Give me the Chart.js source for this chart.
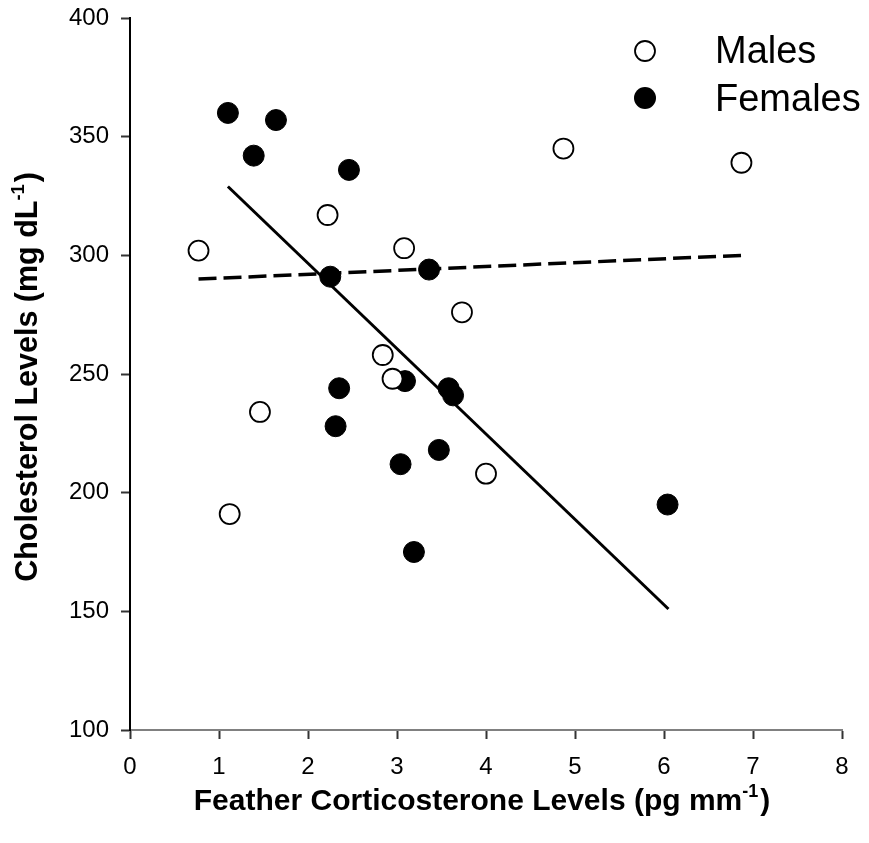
<!DOCTYPE html>
<html>
<head>
<meta charset="utf-8">
<script src="https://cdn.jsdelivr.net/npm/chart.js@4"></script>
<style>
  html, body { margin: 0; padding: 0; background: #fff; }
  #wrap { width: 869px; height: 843px; }
</style>
</head>
<body>
<div id="wrap"><canvas id="chart" width="869" height="843"></canvas></div>
<script>
// datos
const malesX = [0.77, 1.12, 1.46, 2.22, 2.84, 2.95, 3.08, 3.73, 4.0, 4.87, 6.87];
const malesY = [302, 191, 234, 317, 258, 248, 303, 276, 208, 345, 339];
const femalesX = [1.1, 1.39, 1.64, 2.25, 2.31, 2.35, 2.46, 3.04, 3.09, 3.19, 3.36, 3.47, 3.58, 3.63, 6.04];
const femalesY = [360, 342, 357, 291, 228, 244, 336, 212, 247, 175, 294, 218, 244, 241, 195];
// lineas de regresion (extremos)
const femaleFitX = [1.1, 6.05];
const femaleFitY = [329, 151];
const maleFitX = [0.77, 6.88];
const maleFitY = [290, 300];
const xTicks = [0, 1, 2, 3, 4, 5, 6, 7, 8];
const yTicks = [100, 150, 200, 250, 300, 350, 400];

const toPoints = (xs, ys) => xs.map((x, i) => ({ x: x, y: ys[i] }));
const FONT = '"Liberation Sans", Arial, sans-serif';

//funcion para escribir texto con superindice
const drawWithSup = (ctx, parts, x, y, size) => {
  let total = 0;
  parts.forEach(p => {
    ctx.font = 'bold ' + (p.sup ? size * 0.6 : size) + 'px ' + FONT;
    total += ctx.measureText(p.t).width;
  });
  let cx = x - total / 2;
  parts.forEach(p => {
    const s = p.sup ? size * 0.6 : size;
    ctx.font = 'bold ' + s + 'px ' + FONT;
    ctx.fillText(p.t, cx, p.sup ? y - size * 0.42 : y);
    cx += ctx.measureText(p.t).width + (p.sup ? 2 : 0);
  });
}

const extras = {
  id: 'extras',
  afterDraw(chart) {
    const ctx = chart.ctx;
    ctx.save();
    ctx.fillStyle = '#000';
    ctx.textAlign = 'left';
    ctx.textBaseline = 'alphabetic';
    // titulo eje x
    drawWithSup(ctx, [{ t: 'Feather Corticosterone Levels (pg mm' }, { t: '-1', sup: true }, { t: ')' }], 481, 810, 30);
    // titulo eje y
    ctx.save();
    ctx.translate(37, 378);
    ctx.rotate(-Math.PI / 2);
    drawWithSup(ctx, [{ t: 'Cholesterol Levels (mg dL' }, { t: '-1', sup: true }, { t: ')' }], 0, 0, 30.5);
    ctx.restore();
    // leyenda
    ctx.lineWidth = 1.8;
    ctx.strokeStyle = '#000';
    ctx.fillStyle = '#fff';
    ctx.beginPath();
    ctx.arc(645, 51, 10, 0, Math.PI * 2);
    ctx.fill();
    ctx.stroke();
    ctx.fillStyle = '#000';
    ctx.beginPath();
    ctx.arc(645, 98, 11, 0, Math.PI * 2);
    ctx.fill();
    ctx.font = '38px ' + FONT;
    ctx.fillText('Males', 715, 63);
    ctx.fillText('Females', 715, 111);
    ctx.restore();
  }
};

const chart = document.getElementById('chart').getContext('2d');
const scatterChart = new Chart(chart, {
  type: 'scatter',
  data: {
    datasets: [{
        label: 'Males',
        data: toPoints(malesX, malesY),
        backgroundColor: '#fff',
        borderColor: '#000',
        borderWidth: 1.8,
        pointRadius: 10
      }, {
        label: 'Females',
        data: toPoints(femalesX, femalesY),
        backgroundColor: '#000',
        borderColor: '#000',
        borderWidth: 1,
        pointRadius: 10.5
      }, {
        label: 'Females fit',
        data: toPoints(femaleFitX, femaleFitY),
        showLine: true,
        borderColor: '#000',
        borderWidth: 3,
        pointRadius: 0
      }, {
        label: 'Males fit',
        data: toPoints(maleFitX, maleFitY),
        showLine: true,
        borderColor: '#000',
        borderWidth: 3.5,
        borderDash: [18, 7],
        pointRadius: 0
      }]
  },
  options: {
    responsive: false,
    animation: false,
    layout: { padding: { top: 18, right: 27, left: 0, bottom: 0 } },
    plugins: { legend: { display: false }, tooltip: { enabled: false } },
    scales: {
      x: {
        type: 'linear',
        min: 0,
        max: 8,
        afterFit: (scale) => { scale.height = 113; scale.paddingLeft = 0; scale.paddingRight = 0; },
        afterBuildTicks: (scale) => { scale.ticks = xTicks.map(v => ({ value: v })); },
        ticks: { color: '#000', font: { family: FONT, size: 24 }, padding: 14, maxRotation: 0 },
        grid: { drawOnChartArea: false, drawTicks: true, tickLength: 9, tickColor: '#333', tickWidth: 2 },
        border: { display: true, color: '#808080', width: 2 }
      },
      y: {
        type: 'linear',
        min: 100,
        max: 400,
        afterFit: (scale) => { scale.width = 130; scale.paddingTop = 0; scale.paddingBottom = 0; },
        afterBuildTicks: (scale) => { scale.ticks = yTicks.map(v => ({ value: v })); },
        ticks: { color: '#000', font: { family: FONT, size: 24 }, padding: 12 },
        grid: { drawOnChartArea: false, drawTicks: true, tickLength: 9, tickColor: '#333', tickWidth: 2 },
        border: { display: true, color: '#000', width: 2 }
      }
    }
  },
  plugins: [extras]
});
</script>
</body>
</html>
